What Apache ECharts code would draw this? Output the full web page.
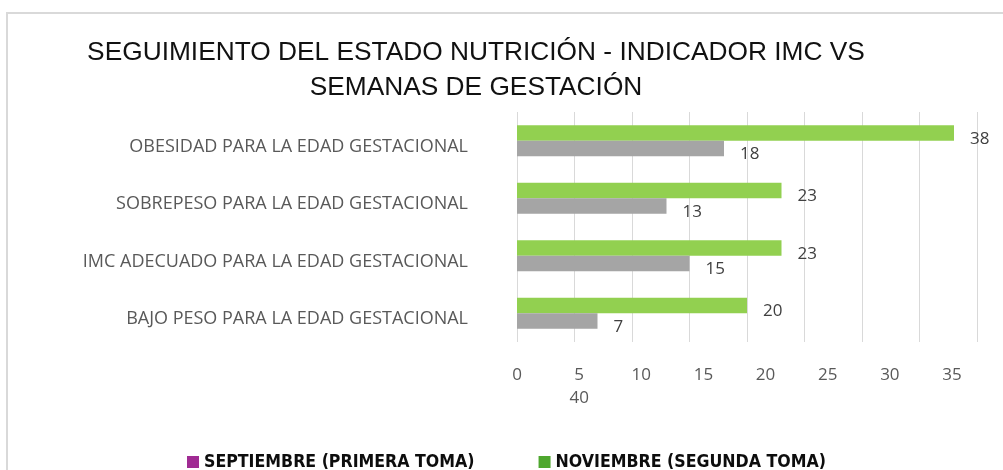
<!DOCTYPE html>
<html>
<head>
<meta charset="utf-8">
<title>IMC vs semanas de gestación</title>
<script src="https://cdn.jsdelivr.net/npm/echarts@6/dist/echarts.min.js"></script>
<style>
html,body{margin:0;padding:0;background:#fff;}
#main{width:1003px;height:470px;}
</style>
</head>
<body>
<div id="main"></div>
<script>
// categorias (de abajo hacia arriba, como las dibuja echarts)
var categorias = [
	"BAJO PESO PARA LA EDAD GESTACIONAL",
	"IMC ADECUADO PARA LA EDAD GESTACIONAL",
	"SOBREPESO PARA LA EDAD GESTACIONAL",
	"OBESIDAD PARA LA EDAD GESTACIONAL"
];
var septiembre = [7, 15, 13, 18];
var noviembre = [20, 23, 23, 38];
var ticksX = ["0", "5", "10", "15", "20", "25", "30", "35", "40"];

var nombreSep = "SEPTIEMBRE (PRIMERA TOMA)";
var nombreNov = "NOVIEMBRE (SEGUNDA TOMA)";

var myChart = echarts.init(document.getElementById("main"));

var etiquetaValor = {
	show: true,
	position: "right",
	distance: 16,
	offset: [0, 6],
	color: "#404040",
	fontFamily: "Open Sans",
	fontSize: 17
};

var option = {
	animation: false,
	backgroundColor: "#fff",
	title: {
		text: "SEGUIMIENTO DEL ESTADO NUTRICIÓN - INDICADOR IMC VS\nSEMANAS DE GESTACIÓN",
		left: 471,
		top: 30,
		textAlign: "center",
		textStyle: {
			fontFamily: "Liberation Sans",
			fontWeight: "normal",
			fontSize: 26.3,
			lineHeight: 35,
			color: "#111"
		}
	},
	graphic: [{
		type: "rect",
		silent: true,
		shape: {x: 7, y: 13, width: 1100, height: 600},
		style: {fill: "none", stroke: "#d9d9d9", lineWidth: 2}
	}],
	legend: {
		left: 182,
		top: 448,
		icon: "rect",
		itemWidth: 12,
		itemHeight: 12,
		itemGap: 64,
		textStyle: {
			fontFamily: "DejaVu Sans Condensed",
			fontWeight: "bold",
			fontSize: 17.6,
			color: "#0d0d0d"
		},
		data: [
			{name: nombreSep, itemStyle: {color: "#a02b93"}},
			{name: nombreNov, itemStyle: {color: "#4ea72e"}}
		]
	},
	grid: [
		{left: 517, right: 26, top: 112, bottom: 128},
		// solo para las etiquetas del eje X
		{left: 517, right: 51, top: 112, bottom: 128}
	],
	xAxis: [{
		type: "value",
		gridIndex: 0,
		min: 0,
		max: 40,
		interval: 5,
		axisLine: {show: false},
		axisTick: {show: false},
		axisLabel: {show: false},
		splitLine: {lineStyle: {color: "#d9d9d9", width: 1}}
	}, {
		type: "value",
		gridIndex: 1,
		min: 0,
		max: 35,
		interval: 5,
		axisLine: {show: false},
		axisTick: {show: false},
		splitLine: {show: false},
		axisLabel: {
			margin: 22,
			color: "#595959",
			fontFamily: "Open Sans",
			fontSize: 17,
			lineHeight: 23,
			formatter: function (v) {
				var i = v / 5;
				if (i === 1) {
					return ticksX[i] + "\n" + ticksX[ticksX.length - 1];
				}
				return ticksX[i];
			}
		}
	}],
	yAxis: [{
		type: "category",
		gridIndex: 0,
		data: categorias,
		axisLine: {show: false},
		axisTick: {show: false},
		axisLabel: {
			margin: 49,
			color: "#595959",
			fontFamily: "Open Sans",
			fontSize: 18,
			formatter: function (v) {
				return "{c|" + v + "}";
			},
			rich: {
				c: {
					padding: [12, 0, 0, 0],
					color: "#595959",
					fontFamily: "Open Sans",
					fontSize: 18
				}
			}
		}
	}, {
		type: "category",
		gridIndex: 1,
		data: categorias,
		show: false
	}],
	// noviembre primero para que quede arriba dentro de cada grupo
	series: [{
		name: nombreNov,
		type: "bar",
		xAxisIndex: 0,
		yAxisIndex: 0,
		data: noviembre,
		barWidth: 15.5,
		barGap: "0%",
		itemStyle: {color: "#92d050"},
		label: etiquetaValor
	}, {
		name: nombreSep,
		type: "bar",
		xAxisIndex: 0,
		yAxisIndex: 0,
		data: septiembre,
		barWidth: 15.5,
		barGap: "0%",
		itemStyle: {color: "#a5a5a5"},
		label: etiquetaValor
	}]
};
myChart.setOption(option);
</script>
</body>
</html>
